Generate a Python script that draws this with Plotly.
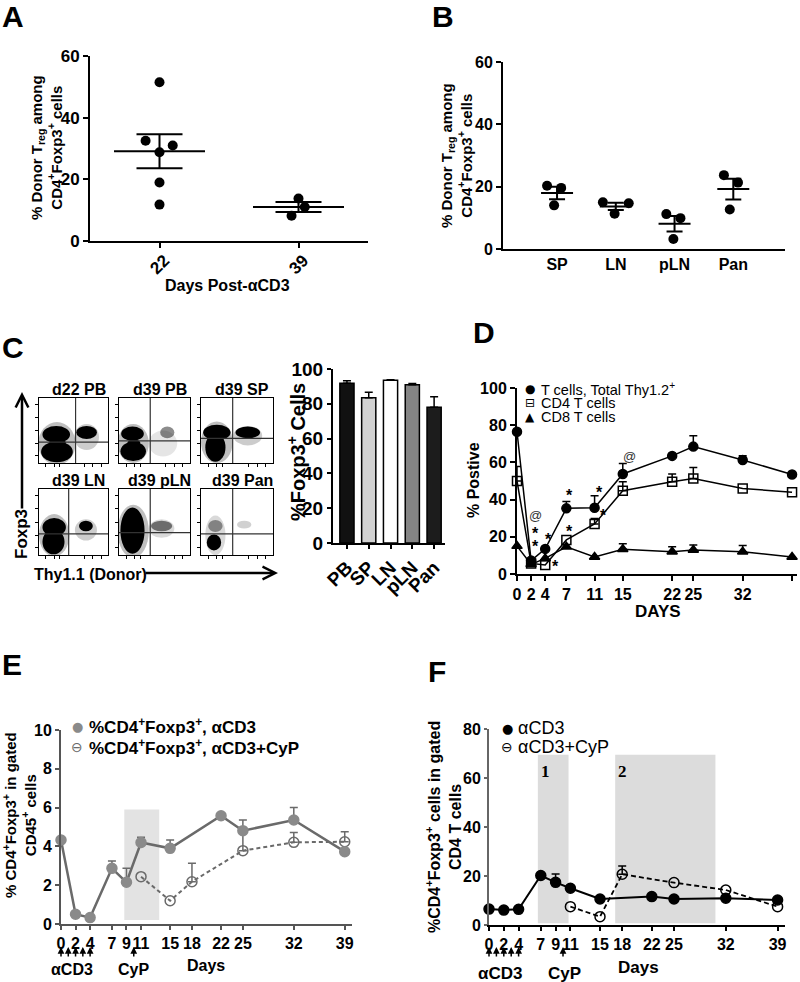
import plotly.graph_objects as go
import numpy as np

W, H = 800, 982
FONT = "Liberation Sans, Arial, Helvetica, sans-serif"
GLYPH = "DejaVu Sans, Liberation Sans, sans-serif"

# ---------------- data ----------------
A_groups = ["22", "39"]
A_values = [[51.5, 32.5, 31.0, 28.8, 19.0, 11.8], [13.8, 11.0, 8.2]]

B_groups = ["SP", "LN", "pLN", "Pan"]
B_values = [[20.3, 19.6, 14.0], [15.0, 14.7, 11.3], [11.2, 9.9, 3.2], [23.7, 21.3, 12.7]]

C_flow_titles = ["d22 PB", "d39 PB", "d39 SP", "d39 LN", "d39 pLN", "d39 Pan"]
C_bar_cats = ["PB", "SP", "LN", "pLN", "Pan"]
C_bar_vals = [91.8, 83.5, 93.5, 91.0, 78.0]
C_bar_err = [1.5, 3.1, 0.3, 0.6, 6.0]

D_days = [0, 2, 4, 7, 11, 15, 22, 25, 32, 39]
D_total = [76.5, 7.2, 13.5, 35.3, 35.6, 53.8, 63.5, 68.5, 61.3, 53.5]
D_total_err = [0, 0, 0, 3.7, 6.5, 5.6, 0, 5.8, 2.3, 0]
D_cd4 = [50.0, 5.7, 4.8, 18.3, 26.9, 44.8, 49.6, 51.4, 46.0, 44.0]
D_cd4_err = [7.8, 0, 0, 0, 3.0, 4.8, 4.1, 5.8, 0, 0]
D_cd8 = [15.0, 5.2, 8.4, 14.6, 9.2, 13.3, 12.0, 12.9, 12.0, 9.1]
D_cd8_err = [0, 0, 0, 0, 0, 3.0, 2.7, 2.7, 3.3, 0]
D_tick_days = [0, 2, 4, 7, 11, 15, 22, 25, 32, 39]
D_sig_x = [2.65, 2.65, 2.65, 4.4, 5.5, 7.5, 7.5, 11.75, 12.2, 15.9]
D_sig_y = [31.5, 23.3, 16.5, 20.0, 5.7, 24.6, 43.8, 45.6, 33.0, 63.2]
D_sig_t = ["@", "*", "*", "*", "*", "*", "*", "*", "*", "@"]
D_legend = ["T cells, Total Thy1.2<sup>+</sup>", "CD4 T cells", "CD8 T cells"]

E_days = [0, 2, 4, 7, 9, 11, 15, 22, 25, 32, 39]
E_acd3 = [4.33, 0.5, 0.33, 2.87, 2.15, 4.2, 3.9, 5.58, 4.81, 5.36, 3.73]
E_acd3_err = [0, 0, 0, 0.38, 0.72, 0.27, 0.43, 0, 0.55, 0.64, 0]
E_cyp_days = [11, 15, 18, 25, 32, 39]
E_cyp = [2.44, 1.2, 2.18, 3.78, 4.21, 4.24]
E_cyp_err = [0, 0, 0.95, 1.0, 0.51, 0.52]
E_legend = ["%CD4<sup>+</sup>Foxp3<sup>+</sup>, αCD3", "%CD4<sup>+</sup>Foxp3<sup>+</sup>, αCD3+CyP"]

F_days = [0, 2, 4, 7, 9, 11, 15, 22, 25, 32, 39]
F_acd3 = [6.5, 6.1, 6.4, 20.2, 17.4, 15.0, 10.6, 11.6, 10.6, 10.9, 10.2]
F_acd3_err = [0, 0, 0, 0, 3.4, 0, 0, 0, 0, 0, 0]
F_cyp_days = [11, 15, 18, 25, 32, 39]
F_cyp = [7.5, 3.4, 20.7, 17.3, 14.3, 7.5]
F_cyp_err = [0, 0, 3.4, 0, 0, 0]
F_legend = ["αCD3", "αCD3+CyP"]

EF_tick_days = [0, 2, 4, 7, 9, 11, 15, 18, 22, 25, 32, 39]
ACD3_DAYS = [0, 1, 2, 3, 4]
CYP_DAY = 10

# shaded periods (x0, x1, y0, y1)
E_SHADE = [(8.7, 13.5, 0.2, 5.9)]
F_SHADE = [(6.6, 10.75, 0.7, 69.5), (17.05, 30.6, 0.7, 69.5)]
F_SHADE_LABELS = ["1", "2"]

# ---------------- styles / positions ----------------
A_JITTER = [[0, -0.1, 0.095, 0, 0, 0], [0, 0.045, -0.05]]
B_JITTER = [[-0.17, 0.07, -0.05], [-0.22, 0.22, -0.02], [-0.14, 0.1, -0.02], [-0.16, 0.08, -0.06]]

# flow plot gates (vertical x, horizontal y) and populations (cx, cy, rx, ry, alpha)
FLOW_GATES = [(0.53, 0.32), (0.44, 0.34), (0.44, 0.38), (0.43, 0.32), (0.44, 0.34), (0.44, 0.32)]
FLOW_POPS = [
    [(0.26, 0.30, 0.27, 0.33, 0.25), (0.25, 0.44, 0.2, 0.13, 1), (0.26, 0.17, 0.23, 0.16, 1),
     (0.27, 0.31, 0.12, 0.06, 1), (0.69, 0.40, 0.18, 0.2, 0.2), (0.69, 0.47, 0.15, 0.1, 1)],
    [(0.2, 0.3, 0.22, 0.3, 0.25), (0.19, 0.45, 0.16, 0.11, 1), (0.2, 0.18, 0.18, 0.15, 1),
     (0.21, 0.31, 0.09, 0.05, 1), (0.62, 0.3, 0.2, 0.2, 0.1), (0.68, 0.47, 0.1, 0.09, 0.45)],
    [(0.22, 0.32, 0.22, 0.32, 0.25), (0.22, 0.47, 0.19, 0.12, 1), (0.2, 0.24, 0.14, 0.22, 1),
     (0.65, 0.42, 0.2, 0.15, 0.2), (0.65, 0.47, 0.17, 0.09, 1)],
    [(0.22, 0.3, 0.22, 0.32, 0.25), (0.22, 0.42, 0.17, 0.14, 1), (0.21, 0.2, 0.16, 0.19, 1),
     (0.68, 0.38, 0.16, 0.16, 0.2), (0.68, 0.44, 0.1, 0.08, 1)],
    [(0.2, 0.36, 0.22, 0.4, 0.25), (0.19, 0.37, 0.17, 0.35, 1),
     (0.6, 0.4, 0.18, 0.14, 0.15), (0.6, 0.44, 0.15, 0.08, 0.5)],
    [(0.2, 0.3, 0.14, 0.3, 0.15), (0.18, 0.19, 0.1, 0.12, 1), (0.2, 0.44, 0.1, 0.09, 0.4),
     (0.6, 0.46, 0.1, 0.06, 0.18)],
]
FLOW_BOX_X = [(39, 108), (119, 190), (201, 273)]
FLOW_BOX_Y = [(398, 463), (489, 555)]

C_BAR_COLORS = ["#111111", "#d2d2d2", "#ffffff", "#858585", "#1c1c1c"]


def tf(size, bold=True, color="black"):
    d = dict(family=FONT, size=size, color=color)
    if bold:
        d["weight"] = "bold"
    return d


def px(x):
    return x / W


def py(y):
    return 1 - y / H


fig = go.Figure()
layout = dict(width=W, height=H, autosize=False, margin=dict(l=0, r=0, t=0, b=0, pad=0, autoexpand=False),
              paper_bgcolor="white", plot_bgcolor="rgba(0,0,0,0)", showlegend=False,
              annotations=[], shapes=[])
ann = layout["annotations"]
shp = layout["shapes"]


def add_axes(i, xl, xr_, yt, yb, xkw, ykw):
    xk = "xaxis" if i == 1 else f"xaxis{i}"
    yk = "yaxis" if i == 1 else f"yaxis{i}"
    xr = "x" if i == 1 else f"x{i}"
    yr = "y" if i == 1 else f"y{i}"
    base = dict(showgrid=False, zeroline=False, showline=True, linecolor="black", linewidth=2,
                ticks="outside", ticklen=5, tickwidth=2, tickcolor="black", tickfont=tf(16),
                fixedrange=True, automargin=False)
    xa = dict(base); xa.update(xkw); xa.update(domain=[px(xl), px(xr_)], anchor=yr)
    ya = dict(base); ya.update(ykw); ya.update(domain=[py(yb), py(yt)], anchor=xr)
    layout[xk] = xa
    layout[yk] = ya
    return xr, yr


def text(x, y, t, size, bold=True, angle=0, xanchor="center", color="black", family=None, **kw):
    f = tf(size, bold, color)
    if family:
        f["family"] = family
    ann.append(dict(x=px(x), y=py(y), xref="paper", yref="paper", text=t, showarrow=False,
                    font=f, textangle=angle, xanchor=xanchor, yanchor="middle",
                    align="left" if xanchor == "left" else "center", borderpad=0, **kw))


# panel letters
for L, x, y in [("A", 1, 17), ("B", 431, 17), ("C", 1, 347), ("D", 472, 332), ("E", 1, 664), ("F", 427, 671)]:
    text(x, y, L, 30, xanchor="left")


# ---------------- A / B dot plots ----------------
def dot_panel(idx, xl, xr_, yt, yb, groups, values, jitter, xrange, xkw, mean_w, cap, tick_size):
    xr, yr = add_axes(idx, xl, xr_, yt, yb,
                      dict(range=xrange, tickvals=list(range(len(groups))), ticktext=groups, **xkw),
                      dict(range=[0, 60], tickvals=[0, 20, 40, 60], tickfont=tf(tick_size)))
    for g, (vals, jit) in enumerate(zip(values, jitter)):
        v = np.array(vals)
        m = v.mean()
        sem = v.std(ddof=1) / np.sqrt(len(v))
        fig.add_trace(go.Scatter(x=[g + j for j in jit], y=vals, mode="markers",
                                 marker=dict(size=10, color="black"), xaxis=xr, yaxis=yr,
                                 cliponaxis=False, hoverinfo="y"))
        fig.add_trace(go.Scatter(x=[g], y=[m], mode="markers",
                                 marker=dict(symbol="line-ew", size=mean_w / 1.4, color="black",
                                             line=dict(color="black", width=2)),
                                 error_y=dict(type="data", array=[sem], symmetric=True, color="black",
                                              thickness=2, width=cap),
                                 xaxis=xr, yaxis=yr, cliponaxis=False, hoverinfo="y"))
    return xr, yr


dot_panel(1, 90, 368, 56, 241, A_groups, A_values, A_JITTER, [-0.5, 1.5],
          dict(tickangle=-45, tickfont=tf(17), ticklabelshift=5, ticklabelstandoff=-4), 91, 23, 17)
text(47, 148, "% Donor T<sub>reg</sub> among<br>CD4<sup>+</sup>Foxp3<sup>+</sup> cells", 15, angle=-90)
text(228, 285, "Days Post-αCD3", 16)

dot_panel(2, 503, 785, 62, 249, B_groups, B_values, B_JITTER, [-0.92, 3.88],
          dict(ticks="", tickfont=tf(16)), 32, 8, 16)
text(456, 155, "% Donor T<sub>reg</sub> among<br>CD4<sup>+</sup>Foxp3<sup>+</sup> cells", 15, angle=-90)

# ---------------- C bar ----------------
xr, yr = add_axes(3, 333, 445, 369, 543,
                  dict(range=[-0.64, 4.5], tickvals=list(range(5)), ticktext=C_bar_cats, tickangle=-45,
                       tickfont=tf(19), ticklen=4),
                  dict(range=[0, 100], tickvals=[0, 20, 40, 60, 80, 100], tickfont=tf(19), ticklen=4))
fig.add_trace(go.Bar(x=list(range(5)), y=C_bar_vals, width=0.65,
                     marker=dict(color=C_BAR_COLORS, line=dict(color="black", width=1.5)),
                     error_y=dict(type="data", array=C_bar_err, arrayminus=[0] * 5, symmetric=False,
                                  color="black", thickness=1.5, width=4),
                     xaxis=xr, yaxis=yr))
text(296, 452, "%Foxp3<sup>+</sup> Cells", 20, angle=-90)

# ---------------- C flow plots ----------------
for k, title in enumerate(C_flow_titles):
    row, col = divmod(k, 3)
    x0, x1 = FLOW_BOX_X[col]
    y0, y1 = FLOW_BOX_Y[row]
    idx = 7 + k
    xr, yr = add_axes(idx, x0, x1, y0, y1,
                      dict(range=[0, 1], mirror=True, linewidth=1, ticklen=3, tickwidth=1,
                           showticklabels=False, tickvals=[0.1, 0.22, 0.3, 0.66, 0.78, 0.9]),
                      dict(range=[0, 1], mirror=True, linewidth=1, ticklen=3, tickwidth=1,
                           showticklabels=False, tickvals=[0.12, 0.3, 0.5, 0.7, 0.9]))
    for (cx, cy, rx, ry, a) in FLOW_POPS[k]:
        shp.append(dict(type="circle", xref=xr, yref=yr, x0=cx - rx, x1=cx + rx, y0=cy - ry, y1=cy + ry,
                        fillcolor=f"rgba(0,0,0,{a})", line=dict(width=0), layer="above"))
    vx, hy = FLOW_GATES[k]
    shp.append(dict(type="line", xref=xr, yref=yr, x0=vx, x1=vx, y0=0, y1=1,
                    line=dict(color="#333", width=1.2), layer="above"))
    shp.append(dict(type="line", xref=xr, yref=yr, x0=0, x1=1, y0=hy, y1=hy,
                    line=dict(color="#333", width=1.2), layer="above"))
    text((x0 + x1) / 2 + 5, y0 - 9, title, 16)

# axis arrows of flow plots
ann.append(dict(x=px(22), y=py(392), xref="paper", yref="paper", ax=0, ay=118, text="",
                showarrow=True, arrowhead=5, arrowsize=1.0, arrowwidth=2.5, arrowcolor="black"))
text(21, 534, "Foxp3", 17, angle=-90)
ann.append(dict(x=px(278), y=py(573), xref="paper", yref="paper", ax=-134, ay=0, text="",
                showarrow=True, arrowhead=5, arrowsize=1.0, arrowwidth=2.5, arrowcolor="black"))
text(90, 574, "Thy1.1 (Donor)", 16)


# ---------------- line-panel helper ----------------
def series(xr, yr, days, vals, errs, color, symbol, size, dash="solid", lw=1.5, mline=1.5, mcolor=None):
    ex = [d for d, e in zip(days, errs) if e]
    ey = [v for v, e in zip(vals, errs) if e]
    ee = [e for e in errs if e]
    if ex:
        fig.add_trace(go.Scatter(x=ex, y=ey, mode="markers", marker=dict(size=1, color="rgba(0,0,0,0)"),
                                 error_y=dict(type="data", array=ee, arrayminus=[0] * len(ee), symmetric=False,
                                              color=color, thickness=1.5, width=4),
                                 xaxis=xr, yaxis=yr, cliponaxis=False, hoverinfo="skip"))
    fig.add_trace(go.Scatter(x=days, y=vals, mode="lines+markers",
                             line=dict(color=color, width=lw, dash=dash),
                             marker=dict(symbol=symbol, size=size, color=mcolor or color,
                                         line=dict(color=mcolor or color, width=mline)),
                             xaxis=xr, yaxis=yr, cliponaxis=False))


def inj_arrows(xr):
    for d in ACD3_DAYS + [CYP_DAY]:
        ann.append(dict(x=d, y=py(947), xref=xr, yref="paper", ax=0, ay=11, text="", showarrow=True,
                        arrowhead=2, arrowsize=0.9, arrowwidth=1.5, arrowcolor="black"))


# ---------------- D ----------------
xr, yr = add_axes(4, 517, 797, 388, 574,
                  dict(range=[0, 39.7], tickvals=D_tick_days, tickfont=tf(16), tickangle=0),
                  dict(range=[0, 100], tickvals=[0, 20, 40, 60, 80, 100], tickfont=tf(16)))
series(xr, yr, D_days, D_cd8, D_cd8_err, "black", "triangle-up", 9)
series(xr, yr, D_days, D_cd4, D_cd4_err, "black", "square-open", 9)
series(xr, yr, D_days, D_total, D_total_err, "black", "circle", 9)
for sx, sy, st in zip(D_sig_x, D_sig_y, D_sig_t):
    f = tf(13, bold=False, color="#333") if st == "@" else tf(16)
    ann.append(dict(x=sx, y=sy, xref=xr, yref=yr, text=st, showarrow=False, font=f, borderpad=0,
                    yshift=-3 if st == "*" else 0))
text(473, 480, "% Postive", 16, angle=-90)
text(658, 611, "DAYS", 17)
for i, (g, t) in enumerate(zip(["●", "⊟", "▲"], D_legend)):
    yy = 389 + 14 * i
    text(530, yy, g, 12, bold=False, family=GLYPH)
    text(540, yy, t, 14.5, bold=False, xanchor="left")

# ---------------- E ----------------
GRAYL = "#6a6a6a"
xr, yr = add_axes(5, 61, 352, 730, 924,
                  dict(range=[0, 40], tickvals=EF_tick_days, tickfont=tf(16), tickangle=0,
                       linecolor="#555", tickcolor="#555", ticklen=4),
                  dict(range=[0, 10], tickvals=[0, 2, 4, 6, 8, 10], tickfont=tf(16), linecolor="#555",
                       tickcolor="#555", ticklen=4))
for (a, b, c, d) in E_SHADE:
    shp.append(dict(type="rect", xref=xr, yref=yr, x0=a, x1=b, y0=c, y1=d, fillcolor="#e3e3e3",
                    line=dict(width=0), layer="below"))
series(xr, yr, E_cyp_days, E_cyp, E_cyp_err, GRAYL, "circle-open", 10, dash="4px,3px", lw=2)
series(xr, yr, E_days, E_acd3, E_acd3_err, GRAYL, "circle", 10, lw=2.5, mcolor="#8a8a8a")
text(19, 815, "% CD4<sup>+</sup>Foxp3<sup>+</sup> in gated<br>CD45<sup>+</sup> cells", 15, angle=-90)
text(77, 726, "●", 13, bold=False, color="#8a8a8a", family=GLYPH)
text(77, 747, "⊖", 14, bold=False, color=GRAYL, family=GLYPH)
text(88, 726, E_legend[0], 17, xanchor="left")
text(88, 747, E_legend[1], 17, xanchor="left")
inj_arrows(xr)
text(72, 969, "αCD3", 16)
text(133, 969, "CyP", 16)
text(206, 965, "Days", 16)

# ---------------- F ----------------
xr, yr = add_axes(6, 489, 785, 729, 925,
                  dict(range=[0, 40], tickvals=EF_tick_days, tickfont=tf(16), tickangle=0, ticklen=4),
                  dict(range=[0, 80], tickvals=[0, 20, 40, 60, 80], tickfont=tf(16), linecolor="#666",
                       tickcolor="#666", ticklen=3))
for (a, b, c, d), lab in zip(F_SHADE, F_SHADE_LABELS):
    shp.append(dict(type="rect", xref=xr, yref=yr, x0=a, x1=b, y0=c, y1=d, fillcolor="#dcdcdc",
                    line=dict(width=0), layer="below"))
    ann.append(dict(x=a + 1.05, y=d - 6.8, xref=xr, yref=yr, text=lab, showarrow=False,
                    font=dict(family="Liberation Serif, Times New Roman, serif", size=17, color="black",
                              weight="bold")))
series(xr, yr, F_cyp_days, F_cyp, F_cyp_err, "black", "circle-open", 10, dash="5px,3px", lw=1.8)
series(xr, yr, F_days, F_acd3, F_acd3_err, "black", "circle", 10, lw=2)
text(443, 827, "%CD4<sup>+</sup>Foxp3<sup>+</sup> cells in gated<br>CD4 T cells", 16, angle=-90)
text(507, 728, "●", 13, bold=False, family=GLYPH)
text(507, 747, "⊖", 14, bold=False, family=GLYPH)
text(517, 728, F_legend[0], 18, bold=False, xanchor="left")
text(517, 747, F_legend[1], 18, bold=False, xanchor="left")
inj_arrows(xr)
text(500, 973, "αCD3", 17)
text(564, 973, "CyP", 17)
text(638, 967, "Days", 17)

fig.update_layout(**layout)
fig.write_html("out.html", config={"responsive": False, "displayModeBar": False},
               post_script="document.body.style.margin='0px';document.body.style.padding='0px';"
                           "document.documentElement.style.overflow='hidden';")
